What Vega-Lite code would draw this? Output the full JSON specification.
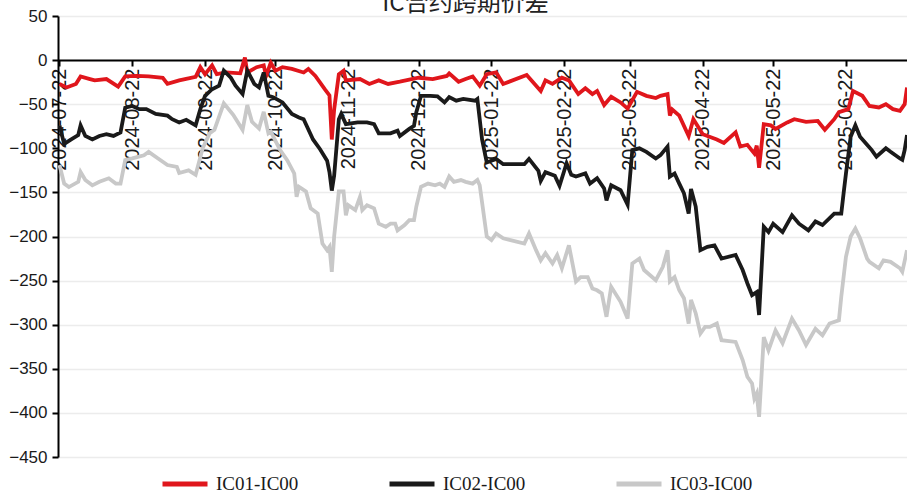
{
  "$schema": "https://vega.github.io/schema/vega-lite/v6.json",
  "autosize": "none",
  "padding": {"left": 58, "top": 16, "right": 0, "bottom": 37},
  "width": 849,
  "height": 441,
  "title": {"text": "IC合约跨期价差", "fontSize": 24, "font": "Noto Sans CJK SC", "fontWeight": "normal", "color": "#222222", "anchor": "middle", "frame": "group", "dx": -17, "offset": -28, "baseline": "alphabetic"},
  "config": {"view": {"stroke": null}, "background": "white"},
  "data": {"values": [
{"d":"2024-07-22","s":"IC01-IC00","v":-27},{"d":"2024-07-25","s":"IC01-IC00","v":-31},{"d":"2024-07-29","s":"IC01-IC00","v":-27},{"d":"2024-07-31","s":"IC01-IC00","v":-18.5},{"d":"2024-08-04","s":"IC01-IC00","v":-21.5},{"d":"2024-08-06","s":"IC01-IC00","v":-23},{"d":"2024-08-11","s":"IC01-IC00","v":-21.5},{"d":"2024-08-16","s":"IC01-IC00","v":-30},{"d":"2024-08-19","s":"IC01-IC00","v":-18.5},{"d":"2024-08-24","s":"IC01-IC00","v":-18},{"d":"2024-08-29","s":"IC01-IC00","v":-18.5},{"d":"2024-09-04","s":"IC01-IC00","v":-20},{"d":"2024-09-06","s":"IC01-IC00","v":-27},{"d":"2024-09-11","s":"IC01-IC00","v":-23},{"d":"2024-09-18","s":"IC01-IC00","v":-19},{"d":"2024-09-20","s":"IC01-IC00","v":-8},{"d":"2024-09-22","s":"IC01-IC00","v":-16},{"d":"2024-09-25","s":"IC01-IC00","v":-6},{"d":"2024-09-27","s":"IC01-IC00","v":-16},{"d":"2024-10-01","s":"IC01-IC00","v":-14},{"d":"2024-10-07","s":"IC01-IC00","v":-15},{"d":"2024-10-09","s":"IC01-IC00","v":3},{"d":"2024-10-10","s":"IC01-IC00","v":-14},{"d":"2024-10-14","s":"IC01-IC00","v":-8},{"d":"2024-10-17","s":"IC01-IC00","v":-6},{"d":"2024-10-18","s":"IC01-IC00","v":-18},{"d":"2024-10-20","s":"IC01-IC00","v":-3},{"d":"2024-10-22","s":"IC01-IC00","v":-12},{"d":"2024-10-25","s":"IC01-IC00","v":-8},{"d":"2024-10-29","s":"IC01-IC00","v":-10},{"d":"2024-11-03","s":"IC01-IC00","v":-14},{"d":"2024-11-05","s":"IC01-IC00","v":-10},{"d":"2024-11-08","s":"IC01-IC00","v":-18},{"d":"2024-11-12","s":"IC01-IC00","v":-33},{"d":"2024-11-14","s":"IC01-IC00","v":-40},{"d":"2024-11-15","s":"IC01-IC00","v":-90},{"d":"2024-11-16","s":"IC01-IC00","v":-56},{"d":"2024-11-18","s":"IC01-IC00","v":-16},{"d":"2024-11-20","s":"IC01-IC00","v":-12},{"d":"2024-11-21","s":"IC01-IC00","v":-23},{"d":"2024-11-27","s":"IC01-IC00","v":-21.5},{"d":"2024-12-01","s":"IC01-IC00","v":-27},{"d":"2024-12-05","s":"IC01-IC00","v":-23},{"d":"2024-12-09","s":"IC01-IC00","v":-27},{"d":"2024-12-14","s":"IC01-IC00","v":-24.5},{"d":"2024-12-19","s":"IC01-IC00","v":-21.5},{"d":"2024-12-22","s":"IC01-IC00","v":-20},{"d":"2024-12-28","s":"IC01-IC00","v":-21.5},{"d":"2025-01-03","s":"IC01-IC00","v":-18},{"d":"2025-01-04","s":"IC01-IC00","v":-15},{"d":"2025-01-08","s":"IC01-IC00","v":-24.5},{"d":"2025-01-11","s":"IC01-IC00","v":-21.5},{"d":"2025-01-14","s":"IC01-IC00","v":-18.5},{"d":"2025-01-17","s":"IC01-IC00","v":-29},{"d":"2025-01-20","s":"IC01-IC00","v":-16},{"d":"2025-01-24","s":"IC01-IC00","v":-14},{"d":"2025-01-27","s":"IC01-IC00","v":-27},{"d":"2025-02-06","s":"IC01-IC00","v":-17},{"d":"2025-02-12","s":"IC01-IC00","v":-35},{"d":"2025-02-14","s":"IC01-IC00","v":-23},{"d":"2025-02-17","s":"IC01-IC00","v":-27},{"d":"2025-02-21","s":"IC01-IC00","v":-20},{"d":"2025-02-24","s":"IC01-IC00","v":-23},{"d":"2025-02-28","s":"IC01-IC00","v":-38.5},{"d":"2025-03-03","s":"IC01-IC00","v":-32},{"d":"2025-03-06","s":"IC01-IC00","v":-38.5},{"d":"2025-03-08","s":"IC01-IC00","v":-35},{"d":"2025-03-11","s":"IC01-IC00","v":-51},{"d":"2025-03-14","s":"IC01-IC00","v":-41.6},{"d":"2025-03-18","s":"IC01-IC00","v":-48},{"d":"2025-03-21","s":"IC01-IC00","v":-55},{"d":"2025-03-25","s":"IC01-IC00","v":-36},{"d":"2025-03-29","s":"IC01-IC00","v":-40.5},{"d":"2025-04-02","s":"IC01-IC00","v":-43},{"d":"2025-04-04","s":"IC01-IC00","v":-40.5},{"d":"2025-04-07","s":"IC01-IC00","v":-38.5},{"d":"2025-04-08","s":"IC01-IC00","v":-63},{"d":"2025-04-09","s":"IC01-IC00","v":-56},{"d":"2025-04-12","s":"IC01-IC00","v":-63},{"d":"2025-04-16","s":"IC01-IC00","v":-86},{"d":"2025-04-18","s":"IC01-IC00","v":-67},{"d":"2025-04-22","s":"IC01-IC00","v":-84},{"d":"2025-04-24","s":"IC01-IC00","v":-86},{"d":"2025-04-28","s":"IC01-IC00","v":-90},{"d":"2025-05-01","s":"IC01-IC00","v":-94},{"d":"2025-05-06","s":"IC01-IC00","v":-82},{"d":"2025-05-08","s":"IC01-IC00","v":-98},{"d":"2025-05-11","s":"IC01-IC00","v":-96},{"d":"2025-05-14","s":"IC01-IC00","v":-106},{"d":"2025-05-15","s":"IC01-IC00","v":-97},{"d":"2025-05-16","s":"IC01-IC00","v":-122},{"d":"2025-05-18","s":"IC01-IC00","v":-72.6},{"d":"2025-05-21","s":"IC01-IC00","v":-74},{"d":"2025-05-23","s":"IC01-IC00","v":-78},{"d":"2025-05-28","s":"IC01-IC00","v":-70.7},{"d":"2025-05-31","s":"IC01-IC00","v":-67},{"d":"2025-06-05","s":"IC01-IC00","v":-70},{"d":"2025-06-10","s":"IC01-IC00","v":-69},{"d":"2025-06-13","s":"IC01-IC00","v":-79},{"d":"2025-06-17","s":"IC01-IC00","v":-67},{"d":"2025-06-19","s":"IC01-IC00","v":-59},{"d":"2025-06-23","s":"IC01-IC00","v":-55.6},{"d":"2025-06-25","s":"IC01-IC00","v":-35},{"d":"2025-06-29","s":"IC01-IC00","v":-40.5},{"d":"2025-07-02","s":"IC01-IC00","v":-52},{"d":"2025-07-06","s":"IC01-IC00","v":-53.7},{"d":"2025-07-09","s":"IC01-IC00","v":-50},{"d":"2025-07-12","s":"IC01-IC00","v":-55.6},{"d":"2025-07-15","s":"IC01-IC00","v":-57.5},{"d":"2025-07-17","s":"IC01-IC00","v":-50},{"d":"2025-07-18","s":"IC01-IC00","v":-31},
{"d":"2024-07-22","s":"IC02-IC00","v":-74},{"d":"2024-07-24","s":"IC02-IC00","v":-95},{"d":"2024-07-27","s":"IC02-IC00","v":-90},{"d":"2024-07-30","s":"IC02-IC00","v":-85},{"d":"2024-07-31","s":"IC02-IC00","v":-74},{"d":"2024-08-02","s":"IC02-IC00","v":-86},{"d":"2024-08-05","s":"IC02-IC00","v":-90},{"d":"2024-08-08","s":"IC02-IC00","v":-86},{"d":"2024-08-11","s":"IC02-IC00","v":-84},{"d":"2024-08-14","s":"IC02-IC00","v":-86},{"d":"2024-08-17","s":"IC02-IC00","v":-82},{"d":"2024-08-19","s":"IC02-IC00","v":-54},{"d":"2024-08-22","s":"IC02-IC00","v":-52},{"d":"2024-08-25","s":"IC02-IC00","v":-55.6},{"d":"2024-08-28","s":"IC02-IC00","v":-55.6},{"d":"2024-09-01","s":"IC02-IC00","v":-61},{"d":"2024-09-06","s":"IC02-IC00","v":-63},{"d":"2024-09-08","s":"IC02-IC00","v":-67},{"d":"2024-09-11","s":"IC02-IC00","v":-70.7},{"d":"2024-09-14","s":"IC02-IC00","v":-67.7},{"d":"2024-09-18","s":"IC02-IC00","v":-74},{"d":"2024-09-20","s":"IC02-IC00","v":-55.6},{"d":"2024-09-22","s":"IC02-IC00","v":-40.5},{"d":"2024-09-25","s":"IC02-IC00","v":-33},{"d":"2024-09-28","s":"IC02-IC00","v":-29},{"d":"2024-09-30","s":"IC02-IC00","v":-12},{"d":"2024-10-03","s":"IC02-IC00","v":-20},{"d":"2024-10-05","s":"IC02-IC00","v":-29},{"d":"2024-10-08","s":"IC02-IC00","v":-38.5},{"d":"2024-10-10","s":"IC02-IC00","v":-12},{"d":"2024-10-13","s":"IC02-IC00","v":-27},{"d":"2024-10-15","s":"IC02-IC00","v":-31},{"d":"2024-10-17","s":"IC02-IC00","v":-14},{"d":"2024-10-19","s":"IC02-IC00","v":-40.5},{"d":"2024-10-21","s":"IC02-IC00","v":-42},{"d":"2024-10-25","s":"IC02-IC00","v":-48},{"d":"2024-10-29","s":"IC02-IC00","v":-61},{"d":"2024-11-01","s":"IC02-IC00","v":-65},{"d":"2024-11-03","s":"IC02-IC00","v":-67},{"d":"2024-11-07","s":"IC02-IC00","v":-90},{"d":"2024-11-10","s":"IC02-IC00","v":-101},{"d":"2024-11-13","s":"IC02-IC00","v":-114},{"d":"2024-11-14","s":"IC02-IC00","v":-127},{"d":"2024-11-15","s":"IC02-IC00","v":-148},{"d":"2024-11-16","s":"IC02-IC00","v":-131},{"d":"2024-11-18","s":"IC02-IC00","v":-67},{"d":"2024-11-19","s":"IC02-IC00","v":-61},{"d":"2024-11-21","s":"IC02-IC00","v":-72.6},{"d":"2024-11-26","s":"IC02-IC00","v":-70.7},{"d":"2024-11-30","s":"IC02-IC00","v":-70.7},{"d":"2024-12-03","s":"IC02-IC00","v":-72.6},{"d":"2024-12-05","s":"IC02-IC00","v":-83},{"d":"2024-12-10","s":"IC02-IC00","v":-83},{"d":"2024-12-13","s":"IC02-IC00","v":-80},{"d":"2024-12-14","s":"IC02-IC00","v":-86},{"d":"2024-12-18","s":"IC02-IC00","v":-78},{"d":"2024-12-20","s":"IC02-IC00","v":-74.5},{"d":"2024-12-21","s":"IC02-IC00","v":-59},{"d":"2024-12-23","s":"IC02-IC00","v":-40.5},{"d":"2024-12-27","s":"IC02-IC00","v":-40.5},{"d":"2024-12-30","s":"IC02-IC00","v":-41},{"d":"2025-01-02","s":"IC02-IC00","v":-48},{"d":"2025-01-04","s":"IC02-IC00","v":-42},{"d":"2025-01-07","s":"IC02-IC00","v":-46},{"d":"2025-01-10","s":"IC02-IC00","v":-44},{"d":"2025-01-15","s":"IC02-IC00","v":-46},{"d":"2025-01-16","s":"IC02-IC00","v":-44},{"d":"2025-01-18","s":"IC02-IC00","v":-90},{"d":"2025-01-20","s":"IC02-IC00","v":-116},{"d":"2025-01-24","s":"IC02-IC00","v":-112},{"d":"2025-01-27","s":"IC02-IC00","v":-118},{"d":"2025-02-05","s":"IC02-IC00","v":-118},{"d":"2025-02-07","s":"IC02-IC00","v":-112},{"d":"2025-02-11","s":"IC02-IC00","v":-125.5},{"d":"2025-02-12","s":"IC02-IC00","v":-137},{"d":"2025-02-14","s":"IC02-IC00","v":-127},{"d":"2025-02-18","s":"IC02-IC00","v":-131},{"d":"2025-02-20","s":"IC02-IC00","v":-142.5},{"d":"2025-02-23","s":"IC02-IC00","v":-117},{"d":"2025-02-25","s":"IC02-IC00","v":-130},{"d":"2025-02-27","s":"IC02-IC00","v":-132},{"d":"2025-03-03","s":"IC02-IC00","v":-128.5},{"d":"2025-03-05","s":"IC02-IC00","v":-140},{"d":"2025-03-08","s":"IC02-IC00","v":-134},{"d":"2025-03-11","s":"IC02-IC00","v":-145.5},{"d":"2025-03-12","s":"IC02-IC00","v":-159},{"d":"2025-03-14","s":"IC02-IC00","v":-142},{"d":"2025-03-18","s":"IC02-IC00","v":-147.5},{"d":"2025-03-21","s":"IC02-IC00","v":-164},{"d":"2025-03-23","s":"IC02-IC00","v":-102},{"d":"2025-03-26","s":"IC02-IC00","v":-100},{"d":"2025-03-29","s":"IC02-IC00","v":-104},{"d":"2025-04-02","s":"IC02-IC00","v":-111.5},{"d":"2025-04-04","s":"IC02-IC00","v":-107.7},{"d":"2025-04-07","s":"IC02-IC00","v":-98},{"d":"2025-04-08","s":"IC02-IC00","v":-132},{"d":"2025-04-10","s":"IC02-IC00","v":-128.5},{"d":"2025-04-12","s":"IC02-IC00","v":-140},{"d":"2025-04-14","s":"IC02-IC00","v":-151},{"d":"2025-04-16","s":"IC02-IC00","v":-174},{"d":"2025-04-17","s":"IC02-IC00","v":-146},{"d":"2025-04-19","s":"IC02-IC00","v":-166},{"d":"2025-04-21","s":"IC02-IC00","v":-215.5},{"d":"2025-04-24","s":"IC02-IC00","v":-211.7},{"d":"2025-04-27","s":"IC02-IC00","v":-210},{"d":"2025-04-30","s":"IC02-IC00","v":-225},{"d":"2025-05-06","s":"IC02-IC00","v":-221},{"d":"2025-05-09","s":"IC02-IC00","v":-238},{"d":"2025-05-11","s":"IC02-IC00","v":-253},{"d":"2025-05-13","s":"IC02-IC00","v":-266.5},{"d":"2025-05-15","s":"IC02-IC00","v":-263},{"d":"2025-05-16","s":"IC02-IC00","v":-289},{"d":"2025-05-18","s":"IC02-IC00","v":-189},{"d":"2025-05-20","s":"IC02-IC00","v":-195},{"d":"2025-05-22","s":"IC02-IC00","v":-185.5},{"d":"2025-05-26","s":"IC02-IC00","v":-195},{"d":"2025-05-30","s":"IC02-IC00","v":-176},{"d":"2025-06-02","s":"IC02-IC00","v":-185.5},{"d":"2025-06-06","s":"IC02-IC00","v":-193},{"d":"2025-06-09","s":"IC02-IC00","v":-183},{"d":"2025-06-12","s":"IC02-IC00","v":-187},{"d":"2025-06-17","s":"IC02-IC00","v":-174},{"d":"2025-06-20","s":"IC02-IC00","v":-174},{"d":"2025-06-21","s":"IC02-IC00","v":-151},{"d":"2025-06-22","s":"IC02-IC00","v":-128.5},{"d":"2025-06-24","s":"IC02-IC00","v":-87},{"d":"2025-06-26","s":"IC02-IC00","v":-74},{"d":"2025-06-28","s":"IC02-IC00","v":-87},{"d":"2025-07-01","s":"IC02-IC00","v":-96},{"d":"2025-07-03","s":"IC02-IC00","v":-102},{"d":"2025-07-05","s":"IC02-IC00","v":-109.6},{"d":"2025-07-09","s":"IC02-IC00","v":-100},{"d":"2025-07-11","s":"IC02-IC00","v":-104},{"d":"2025-07-15","s":"IC02-IC00","v":-111.5},{"d":"2025-07-16","s":"IC02-IC00","v":-113},{"d":"2025-07-17","s":"IC02-IC00","v":-102},{"d":"2025-07-18","s":"IC02-IC00","v":-85},
{"d":"2024-07-22","s":"IC03-IC00","v":-119},{"d":"2024-07-24","s":"IC03-IC00","v":-140},{"d":"2024-07-26","s":"IC03-IC00","v":-144},{"d":"2024-07-30","s":"IC03-IC00","v":-138},{"d":"2024-07-31","s":"IC03-IC00","v":-127},{"d":"2024-08-02","s":"IC03-IC00","v":-136},{"d":"2024-08-05","s":"IC03-IC00","v":-142},{"d":"2024-08-08","s":"IC03-IC00","v":-138},{"d":"2024-08-12","s":"IC03-IC00","v":-134},{"d":"2024-08-15","s":"IC03-IC00","v":-140},{"d":"2024-08-17","s":"IC03-IC00","v":-140},{"d":"2024-08-19","s":"IC03-IC00","v":-113.4},{"d":"2024-08-22","s":"IC03-IC00","v":-111.5},{"d":"2024-08-27","s":"IC03-IC00","v":-108},{"d":"2024-08-29","s":"IC03-IC00","v":-104},{"d":"2024-09-02","s":"IC03-IC00","v":-111.5},{"d":"2024-09-06","s":"IC03-IC00","v":-119},{"d":"2024-09-10","s":"IC03-IC00","v":-121},{"d":"2024-09-11","s":"IC03-IC00","v":-128},{"d":"2024-09-15","s":"IC03-IC00","v":-125},{"d":"2024-09-18","s":"IC03-IC00","v":-130},{"d":"2024-09-21","s":"IC03-IC00","v":-100},{"d":"2024-09-24","s":"IC03-IC00","v":-83},{"d":"2024-09-26","s":"IC03-IC00","v":-79},{"d":"2024-09-30","s":"IC03-IC00","v":-49},{"d":"2024-10-04","s":"IC03-IC00","v":-62},{"d":"2024-10-08","s":"IC03-IC00","v":-79},{"d":"2024-10-10","s":"IC03-IC00","v":-51},{"d":"2024-10-12","s":"IC03-IC00","v":-70},{"d":"2024-10-15","s":"IC03-IC00","v":-77.5},{"d":"2024-10-17","s":"IC03-IC00","v":-58.6},{"d":"2024-10-19","s":"IC03-IC00","v":-83},{"d":"2024-10-20","s":"IC03-IC00","v":-81},{"d":"2024-10-24","s":"IC03-IC00","v":-102},{"d":"2024-10-27","s":"IC03-IC00","v":-113.4},{"d":"2024-10-30","s":"IC03-IC00","v":-128.5},{"d":"2024-10-31","s":"IC03-IC00","v":-155},{"d":"2024-11-01","s":"IC03-IC00","v":-143.7},{"d":"2024-11-04","s":"IC03-IC00","v":-149},{"d":"2024-11-06","s":"IC03-IC00","v":-168},{"d":"2024-11-09","s":"IC03-IC00","v":-174},{"d":"2024-11-11","s":"IC03-IC00","v":-208},{"d":"2024-11-13","s":"IC03-IC00","v":-215.5},{"d":"2024-11-14","s":"IC03-IC00","v":-211.7},{"d":"2024-11-15","s":"IC03-IC00","v":-240},{"d":"2024-11-16","s":"IC03-IC00","v":-200},{"d":"2024-11-18","s":"IC03-IC00","v":-149},{"d":"2024-11-20","s":"IC03-IC00","v":-149},{"d":"2024-11-21","s":"IC03-IC00","v":-176},{"d":"2024-11-22","s":"IC03-IC00","v":-164.5},{"d":"2024-11-25","s":"IC03-IC00","v":-170},{"d":"2024-11-27","s":"IC03-IC00","v":-155},{"d":"2024-11-28","s":"IC03-IC00","v":-170},{"d":"2024-11-30","s":"IC03-IC00","v":-164.5},{"d":"2024-12-03","s":"IC03-IC00","v":-168},{"d":"2024-12-05","s":"IC03-IC00","v":-185.5},{"d":"2024-12-08","s":"IC03-IC00","v":-189},{"d":"2024-12-10","s":"IC03-IC00","v":-185.5},{"d":"2024-12-12","s":"IC03-IC00","v":-185.5},{"d":"2024-12-13","s":"IC03-IC00","v":-193},{"d":"2024-12-16","s":"IC03-IC00","v":-187},{"d":"2024-12-18","s":"IC03-IC00","v":-181.5},{"d":"2024-12-20","s":"IC03-IC00","v":-181.5},{"d":"2024-12-21","s":"IC03-IC00","v":-166},{"d":"2024-12-23","s":"IC03-IC00","v":-143.7},{"d":"2024-12-26","s":"IC03-IC00","v":-140},{"d":"2024-12-29","s":"IC03-IC00","v":-142},{"d":"2024-12-31","s":"IC03-IC00","v":-140},{"d":"2025-01-02","s":"IC03-IC00","v":-143.7},{"d":"2025-01-04","s":"IC03-IC00","v":-132},{"d":"2025-01-06","s":"IC03-IC00","v":-138},{"d":"2025-01-09","s":"IC03-IC00","v":-136},{"d":"2025-01-11","s":"IC03-IC00","v":-138},{"d":"2025-01-14","s":"IC03-IC00","v":-140},{"d":"2025-01-16","s":"IC03-IC00","v":-136},{"d":"2025-01-17","s":"IC03-IC00","v":-142},{"d":"2025-01-20","s":"IC03-IC00","v":-200},{"d":"2025-01-22","s":"IC03-IC00","v":-204},{"d":"2025-01-24","s":"IC03-IC00","v":-196.6},{"d":"2025-01-27","s":"IC03-IC00","v":-202},{"d":"2025-02-05","s":"IC03-IC00","v":-208},{"d":"2025-02-07","s":"IC03-IC00","v":-196.6},{"d":"2025-02-10","s":"IC03-IC00","v":-215.5},{"d":"2025-02-12","s":"IC03-IC00","v":-227},{"d":"2025-02-14","s":"IC03-IC00","v":-219},{"d":"2025-02-17","s":"IC03-IC00","v":-230.6},{"d":"2025-02-19","s":"IC03-IC00","v":-221},{"d":"2025-02-21","s":"IC03-IC00","v":-236},{"d":"2025-02-24","s":"IC03-IC00","v":-210},{"d":"2025-02-27","s":"IC03-IC00","v":-251},{"d":"2025-03-01","s":"IC03-IC00","v":-246},{"d":"2025-03-04","s":"IC03-IC00","v":-246},{"d":"2025-03-06","s":"IC03-IC00","v":-259},{"d":"2025-03-08","s":"IC03-IC00","v":-261},{"d":"2025-03-10","s":"IC03-IC00","v":-264.6},{"d":"2025-03-12","s":"IC03-IC00","v":-291},{"d":"2025-03-14","s":"IC03-IC00","v":-257},{"d":"2025-03-18","s":"IC03-IC00","v":-274},{"d":"2025-03-21","s":"IC03-IC00","v":-293},{"d":"2025-03-23","s":"IC03-IC00","v":-230.6},{"d":"2025-03-26","s":"IC03-IC00","v":-225},{"d":"2025-03-28","s":"IC03-IC00","v":-238},{"d":"2025-04-02","s":"IC03-IC00","v":-249.5},{"d":"2025-04-05","s":"IC03-IC00","v":-234.4},{"d":"2025-04-07","s":"IC03-IC00","v":-215.5},{"d":"2025-04-08","s":"IC03-IC00","v":-251},{"d":"2025-04-10","s":"IC03-IC00","v":-246},{"d":"2025-04-12","s":"IC03-IC00","v":-261},{"d":"2025-04-14","s":"IC03-IC00","v":-270},{"d":"2025-04-16","s":"IC03-IC00","v":-298.7},{"d":"2025-04-17","s":"IC03-IC00","v":-272},{"d":"2025-04-19","s":"IC03-IC00","v":-287},{"d":"2025-04-21","s":"IC03-IC00","v":-310},{"d":"2025-04-23","s":"IC03-IC00","v":-302.5},{"d":"2025-04-25","s":"IC03-IC00","v":-302.5},{"d":"2025-04-28","s":"IC03-IC00","v":-298.7},{"d":"2025-04-30","s":"IC03-IC00","v":-317.6},{"d":"2025-05-06","s":"IC03-IC00","v":-319.5},{"d":"2025-05-09","s":"IC03-IC00","v":-340},{"d":"2025-05-11","s":"IC03-IC00","v":-359},{"d":"2025-05-13","s":"IC03-IC00","v":-366.7},{"d":"2025-05-14","s":"IC03-IC00","v":-383.7},{"d":"2025-05-15","s":"IC03-IC00","v":-378},{"d":"2025-05-16","s":"IC03-IC00","v":-404.5},{"d":"2025-05-18","s":"IC03-IC00","v":-314},{"d":"2025-05-20","s":"IC03-IC00","v":-329},{"d":"2025-05-23","s":"IC03-IC00","v":-306.5},{"d":"2025-05-26","s":"IC03-IC00","v":-321},{"d":"2025-05-30","s":"IC03-IC00","v":-293},{"d":"2025-06-02","s":"IC03-IC00","v":-306.5},{"d":"2025-06-05","s":"IC03-IC00","v":-323},{"d":"2025-06-09","s":"IC03-IC00","v":-304.6},{"d":"2025-06-12","s":"IC03-IC00","v":-312},{"d":"2025-06-15","s":"IC03-IC00","v":-298.7},{"d":"2025-06-19","s":"IC03-IC00","v":-295},{"d":"2025-06-20","s":"IC03-IC00","v":-268.4},{"d":"2025-06-22","s":"IC03-IC00","v":-223},{"d":"2025-06-24","s":"IC03-IC00","v":-200},{"d":"2025-06-26","s":"IC03-IC00","v":-191},{"d":"2025-06-28","s":"IC03-IC00","v":-202},{"d":"2025-07-01","s":"IC03-IC00","v":-225},{"d":"2025-07-02","s":"IC03-IC00","v":-228.7},{"d":"2025-07-06","s":"IC03-IC00","v":-236},{"d":"2025-07-08","s":"IC03-IC00","v":-227},{"d":"2025-07-11","s":"IC03-IC00","v":-228.7},{"d":"2025-07-15","s":"IC03-IC00","v":-236},{"d":"2025-07-16","s":"IC03-IC00","v":-240},{"d":"2025-07-18","s":"IC03-IC00","v":-215.5}
  ]},
  "mark": {"type": "line", "strokeWidth": 3.8, "clip": true},
  "encoding": {
    "x": {
      "field": "d", "type": "temporal",
      "scale": {"type": "utc", "domain": [{"year": 2024, "month": 7, "date": 21, "hours": 9, "utc": true}, {"year": 2025, "month": 7, "date": 18, "utc": true}]},
      "axis": {
        "title": null, "orient": "bottom", "offset": -397,
        "values": [{"year":2024,"month":7,"date":22,"utc":true},{"year":2024,"month":8,"date":22,"utc":true},{"year":2024,"month":9,"date":22,"utc":true},{"year":2024,"month":10,"date":22,"utc":true},{"year":2024,"month":11,"date":22,"utc":true},{"year":2024,"month":12,"date":22,"utc":true},{"year":2025,"month":1,"date":22,"utc":true},{"year":2025,"month":2,"date":22,"utc":true},{"year":2025,"month":3,"date":22,"utc":true},{"year":2025,"month":4,"date":22,"utc":true},{"year":2025,"month":5,"date":22,"utc":true},{"year":2025,"month":6,"date":22,"utc":true}],
        "labelExpr": "utcFormat(datum.value, '%Y-%m-%d')",
        "labelAngle": -90, "labelAlign": "right", "labelBaseline": "middle",
        "labelFont": "Liberation Sans", "labelFontSize": 20, "labelColor": "#1a1a1a", "labelPadding": 2,
        "labelOverlap": false, "labelFlush": false, "labelBound": false,
        "grid": false, "domainColor": "#000000", "domainWidth": 2,
        "tickColor": "#000000", "tickWidth": 2, "tickSize": 6
      }
    },
    "y": {
      "field": "v", "type": "quantitative",
      "scale": {"domain": [-450, 50], "nice": false, "zero": false},
      "axis": {
        "title": null, "values": [50, 0, -50, -100, -150, -200, -250, -300, -350, -400, -450],
        "labelFont": "Liberation Sans", "labelFontSize": 17, "labelColor": "#1a1a1a", "labelPadding": 5,
        "grid": true, "gridColor": "#ececec", "gridWidth": 1.5,
        "domainColor": "#000000", "domainWidth": 2, "tickColor": "#000000", "tickWidth": 2, "tickSize": 6
      }
    },
    "color": {
      "field": "s", "type": "nominal",
      "scale": {"domain": ["IC01-IC00", "IC02-IC00", "IC03-IC00"], "range": ["#e0161c", "#1a1a1a", "#c8c8c8"]},
      "legend": {
        "title": null, "orient": "none", "direction": "horizontal", "columns": 3,
        "legendX": 102, "legendY": 443, "padding": 0,
        "symbolType": "stroke", "symbolSize": 2025, "symbolStrokeWidth": 5,
        "labelFont": "Liberation Serif", "labelFontSize": 19, "labelColor": "#1a1a1a", "labelOffset": 6,
        "columnPadding": 80
      }
    }
  }
}
